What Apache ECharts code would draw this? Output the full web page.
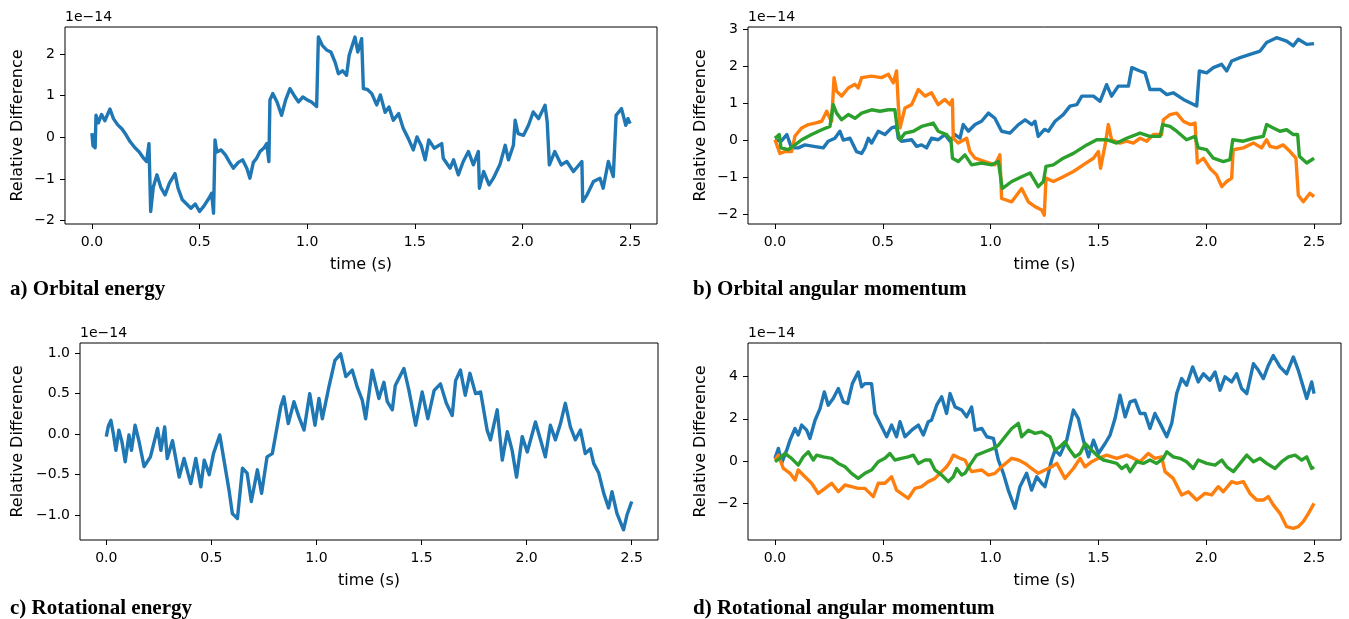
<!DOCTYPE html>
<html>
<head>
<meta charset="utf-8">
<script src="https://cdn.jsdelivr.net/npm/echarts@6/dist/echarts.min.js"></script>
<style>
html,body{margin:0;padding:0;background:#fff;}
#chart{width:1349px;height:619px;}
</style>
</head>
<body>
<div id="chart"></div>
<script>
// ---------- Data (relative difference, units of 1e-14) ----------
const xTicks = [0, 0.5, 1.0, 1.5, 2.0, 2.5];
const yTicksA = [-2, -1, 0, 1, 2];
const yTicksB = [-2, -1, 0, 1, 2, 3];
const yTicksC = [-1.0, -0.5, 0.0, 0.5, 1.0];
const yTicksD = [-2, 0, 2, 4];

// a) Orbital energy
const aT = [0,0.005,0.015,0.019,0.03,0.045,0.06,0.084,0.1,0.12,0.14,0.16,0.177,0.2,0.22,0.24,0.254,0.265,0.273,0.285,0.302,0.32,0.34,0.36,0.386,0.4,0.42,0.44,0.46,0.48,0.5,0.52,0.545,0.556,0.565,0.572,0.58,0.6,0.62,0.64,0.657,0.68,0.7,0.72,0.734,0.75,0.765,0.781,0.8,0.812,0.822,0.827,0.84,0.86,0.881,0.9,0.92,0.94,0.96,0.98,1.0,1.02,1.044,1.052,1.07,1.09,1.11,1.13,1.145,1.165,1.183,1.195,1.222,1.235,1.253,1.261,1.28,1.3,1.323,1.34,1.362,1.38,1.4,1.425,1.446,1.47,1.493,1.51,1.53,1.548,1.565,1.59,1.625,1.632,1.664,1.68,1.702,1.725,1.749,1.772,1.795,1.8,1.82,1.845,1.865,1.895,1.92,1.935,1.958,1.966,1.98,2.005,2.028,2.05,2.075,2.105,2.115,2.125,2.15,2.18,2.206,2.237,2.276,2.28,2.3,2.33,2.36,2.375,2.399,2.422,2.435,2.46,2.48,2.49,2.5];
const aV = [0.1,-0.2,-0.25,0.53,0.35,0.55,0.4,0.68,0.45,0.3,0.2,0.05,-0.1,-0.25,-0.35,-0.5,-0.58,-0.15,-1.78,-1.2,-0.9,-1.2,-1.38,-1.1,-0.87,-1.22,-1.5,-1.6,-1.7,-1.6,-1.78,-1.65,-1.45,-1.34,-1.82,-0.06,-0.35,-0.3,-0.42,-0.6,-0.74,-0.6,-0.54,-0.75,-0.98,-0.6,-0.5,-0.34,-0.25,-0.15,-0.58,0.9,1.05,0.85,0.53,0.9,1.17,1.0,0.85,0.97,0.9,0.85,0.74,2.41,2.21,2.1,2.05,1.8,1.53,1.6,1.49,1.97,2.41,2.05,2.37,1.17,1.15,1.05,0.78,1.02,0.6,0.73,0.41,0.57,0.22,-0.03,-0.3,0.01,-0.2,-0.54,-0.06,-0.26,-0.15,-0.5,-0.74,-0.54,-0.9,-0.58,-0.34,-0.66,-0.34,-1.22,-0.82,-1.14,-0.98,-0.66,-0.19,-0.54,-0.19,0.41,0.09,0.05,0.29,0.61,0.45,0.77,0.37,-0.66,-0.34,-0.66,-0.58,-0.82,-0.58,-1.54,-1.38,-1.06,-0.98,-1.22,-0.58,-0.94,0.53,0.69,0.29,0.45,0.33];

// b) Orbital angular momentum
const bT1 = [0,0.03,0.055,0.077,0.108,0.139,0.18,0.224,0.247,0.278,0.301,0.317,0.348,0.378,0.402,0.417,0.433,0.448,0.479,0.51,0.541,0.564,0.572,0.587,0.634,0.657,0.68,0.703,0.726,0.757,0.788,0.812,0.835,0.858,0.873,0.897,0.928,0.958,0.99,1.02,1.051,1.09,1.129,1.16,1.191,1.206,1.221,1.25,1.268,1.299,1.337,1.368,1.4,1.423,1.477,1.508,1.538,1.561,1.592,1.639,1.655,1.693,1.716,1.739,1.786,1.817,1.847,1.894,1.925,1.956,1.968,2.002,2.033,2.071,2.095,2.118,2.157,2.203,2.25,2.28,2.326,2.373,2.404,2.427,2.466,2.5];
const bV1 = [0.02,-0.01,0.16,-0.2,-0.2,-0.12,-0.16,-0.2,-0.02,0.06,0.25,0.01,0.06,-0.3,-0.35,-0.2,0.06,-0.07,0.25,0.16,0.34,0.38,0.06,-0.02,0.02,-0.16,-0.12,-0.2,0.06,0.02,0.16,-0.02,0.16,0.06,0.43,0.25,0.43,0.52,0.74,0.6,0.25,0.2,0.43,0.56,0.43,0.52,0.11,0.3,0.25,0.52,0.7,0.93,0.97,1.2,1.2,1.06,1.51,1.2,1.47,1.47,1.97,1.88,1.83,1.38,1.38,1.24,1.29,1.11,1.02,0.93,1.88,1.83,1.97,2.06,1.88,2.15,2.24,2.33,2.42,2.65,2.78,2.69,2.56,2.74,2.6,2.62];
const bT2 = [0,0.023,0.046,0.077,0.093,0.124,0.155,0.186,0.217,0.24,0.255,0.263,0.274,0.286,0.309,0.34,0.371,0.386,0.402,0.448,0.494,0.526,0.549,0.564,0.572,0.58,0.603,0.634,0.665,0.696,0.726,0.757,0.788,0.812,0.823,0.827,0.85,0.889,0.904,0.928,0.974,1.02,1.043,1.051,1.098,1.144,1.175,1.206,1.237,1.249,1.257,1.291,1.337,1.384,1.43,1.477,1.5,1.51,1.531,1.546,1.561,1.6,1.631,1.662,1.693,1.724,1.755,1.793,1.801,1.832,1.863,1.894,1.925,1.948,1.959,1.987,2.017,2.048,2.072,2.095,2.118,2.125,2.172,2.219,2.257,2.28,2.296,2.326,2.357,2.389,2.416,2.427,2.45,2.481,2.5];
const bV2 = [0.02,-0.35,-0.3,-0.3,0.12,0.34,0.43,0.47,0.52,0.79,0.6,0.52,1.7,1.33,1.2,1.42,1.52,1.42,1.7,1.74,1.7,1.79,1.56,1.88,0.97,0.34,0.88,0.97,1.38,1.2,1.29,0.97,1.11,0.97,1.1,0.06,-0.07,0.06,-0.3,-0.48,-0.57,-0.66,-0.39,-1.57,-1.66,-1.3,-1.66,-1.79,-1.88,-2.02,-1.02,-1.11,-0.98,-0.84,-0.66,-0.48,-0.3,-0.75,-0.12,0.43,0.02,-0.07,-0.02,-0.07,0.06,-0.02,0.16,0.16,0.56,0.7,0.74,0.52,0.43,0.47,-0.61,-0.48,-0.75,-0.93,-1.25,-1.11,-1.02,-0.25,-0.2,-0.07,-0.2,0.02,-0.16,-0.2,-0.12,-0.3,-0.48,-1.48,-1.66,-1.43,-1.52];
const bT3 = [0,0.02,0.028,0.062,0.093,0.124,0.17,0.217,0.255,0.27,0.286,0.309,0.34,0.371,0.402,0.448,0.487,0.526,0.556,0.569,0.58,0.603,0.642,0.68,0.711,0.734,0.757,0.796,0.816,0.823,0.85,0.881,0.912,0.958,1.005,1.036,1.054,1.098,1.144,1.183,1.221,1.245,1.257,1.291,1.337,1.384,1.446,1.492,1.538,1.585,1.631,1.693,1.739,1.786,1.798,1.832,1.863,1.909,1.948,1.963,2.002,2.033,2.079,2.11,2.123,2.172,2.219,2.265,2.28,2.311,2.342,2.373,2.404,2.424,2.432,2.466,2.5];
const bV3 = [0.06,0.16,-0.2,-0.25,-0.12,0.02,0.16,0.29,0.38,0.97,0.74,0.56,0.7,0.6,0.74,0.83,0.79,0.83,0.83,0.25,0.02,0.2,0.25,0.38,0.43,0.47,0.25,0.16,0.02,-0.48,-0.57,-0.39,-0.66,-0.61,-0.66,-0.57,-1.3,-1.11,-0.98,-0.88,-1.25,-1.11,-0.7,-0.66,-0.48,-0.35,-0.12,0.02,0.02,-0.07,0.06,0.2,0.11,0.11,0.43,0.38,0.25,0.02,0.11,-0.2,-0.25,-0.48,-0.57,-0.52,0.02,-0.02,0.06,0.11,0.43,0.34,0.25,0.29,0.16,0.16,-0.43,-0.61,-0.48];

// c) Rotational energy
const cT = [0,0.01,0.022,0.034,0.046,0.06,0.075,0.09,0.108,0.12,0.137,0.155,0.18,0.21,0.244,0.26,0.278,0.29,0.315,0.347,0.37,0.402,0.426,0.45,0.466,0.49,0.51,0.54,0.56,0.584,0.6,0.624,0.648,0.67,0.69,0.719,0.739,0.765,0.79,0.81,0.83,0.845,0.866,0.893,0.917,0.941,0.968,0.993,1.012,1.028,1.059,1.088,1.115,1.14,1.17,1.194,1.218,1.234,1.265,1.297,1.321,1.337,1.361,1.375,1.416,1.44,1.472,1.503,1.53,1.56,1.59,1.618,1.646,1.662,1.685,1.708,1.73,1.757,1.781,1.812,1.828,1.86,1.884,1.908,1.931,1.952,1.979,2.003,2.042,2.066,2.089,2.113,2.137,2.161,2.184,2.208,2.232,2.256,2.279,2.303,2.319,2.343,2.367,2.39,2.406,2.43,2.461,2.477,2.5];
const cV = [-0.03,0.1,0.17,0.0,-0.2,0.05,-0.1,-0.34,-0.01,-0.2,0.11,-0.08,-0.4,-0.28,0.07,-0.2,0.09,-0.3,-0.08,-0.53,-0.3,-0.61,-0.3,-0.65,-0.32,-0.5,-0.24,-0.01,-0.32,-0.69,-0.98,-1.04,-0.42,-0.48,-0.83,-0.44,-0.73,-0.28,-0.24,0.05,0.34,0.46,0.13,0.4,0.21,0.05,0.5,0.11,0.44,0.19,0.58,0.91,0.99,0.71,0.79,0.58,0.42,0.19,0.79,0.44,0.64,0.4,0.3,0.6,0.81,0.54,0.11,0.52,0.19,0.54,0.62,0.38,0.23,0.66,0.79,0.48,0.75,0.5,0.52,0.05,-0.07,0.3,-0.32,0.03,-0.2,-0.53,-0.03,-0.22,0.15,-0.07,-0.28,0.11,-0.07,0.13,0.38,0.09,-0.07,0.05,-0.24,-0.18,-0.36,-0.48,-0.73,-0.91,-0.71,-0.98,-1.18,-1.0,-0.83];

// d) Rotational angular momentum
const dT1 = [0,0.016,0.031,0.054,0.07,0.093,0.108,0.124,0.147,0.162,0.186,0.209,0.229,0.247,0.27,0.294,0.317,0.337,0.359,0.386,0.402,0.417,0.448,0.464,0.495,0.518,0.541,0.564,0.58,0.603,0.634,0.665,0.688,0.711,0.726,0.75,0.773,0.796,0.812,0.835,0.866,0.889,0.912,0.928,0.959,0.982,1.013,1.036,1.059,1.082,1.113,1.136,1.167,1.19,1.214,1.237,1.252,1.268,1.283,1.299,1.322,1.353,1.384,1.407,1.43,1.454,1.477,1.5,1.531,1.554,1.577,1.6,1.624,1.647,1.67,1.693,1.716,1.739,1.762,1.786,1.817,1.84,1.863,1.886,1.909,1.937,1.963,1.987,2.017,2.041,2.064,2.087,2.118,2.141,2.164,2.188,2.219,2.242,2.265,2.288,2.311,2.342,2.373,2.404,2.427,2.45,2.466,2.489,2.5];
const dV1 = [0.13,0.6,-0.1,0.5,0.99,1.54,1.23,1.7,1.46,1.07,1.93,2.48,3.27,2.64,2.96,3.43,2.8,2.72,3.66,4.21,3.51,3.66,3.66,2.25,1.62,1.15,1.7,1.15,1.86,1.15,1.46,1.7,1.23,1.86,1.93,2.64,3.04,2.25,3.19,2.56,2.41,2.09,2.56,1.46,1.54,1.15,1.07,0.05,-0.58,-1.37,-2.23,-1.21,-0.58,-1.37,-0.74,-1.05,-1.21,-0.58,0.05,0.52,0.28,0.99,2.41,2.01,0.99,0.2,0.99,0.36,0.83,1.23,2.01,3.11,2.09,2.8,2.88,2.25,2.25,1.54,2.25,1.78,1.15,1.78,3.19,3.9,3.58,4.45,3.74,4.13,3.82,4.21,3.35,3.98,3.74,4.13,3.43,3.19,4.6,4.29,3.9,4.52,4.99,4.45,4.13,4.92,4.29,3.5,2.96,3.74,3.19];
const dT2 = [0,0.016,0.039,0.07,0.093,0.108,0.139,0.17,0.201,0.232,0.263,0.294,0.325,0.355,0.386,0.417,0.456,0.479,0.51,0.541,0.564,0.595,0.618,0.649,0.68,0.711,0.742,0.773,0.796,0.812,0.827,0.858,0.881,0.897,0.912,0.958,0.99,1.02,1.051,1.098,1.129,1.16,1.19,1.221,1.252,1.283,1.307,1.345,1.384,1.415,1.438,1.469,1.5,1.538,1.585,1.631,1.662,1.693,1.731,1.762,1.793,1.809,1.847,1.886,1.917,1.956,1.994,2.025,2.056,2.079,2.118,2.141,2.172,2.203,2.234,2.265,2.288,2.311,2.342,2.373,2.404,2.427,2.45,2.474,2.5];
const dV2 = [0.05,0.28,-0.35,-0.58,-0.9,-0.42,-0.74,-1.05,-1.53,-1.29,-1.05,-1.45,-1.13,-1.21,-1.29,-1.29,-1.68,-1.05,-1.05,-0.74,-1.37,-1.6,-1.76,-1.29,-1.21,-0.97,-0.82,-0.5,-0.27,-0.03,0.28,0.13,0.05,-0.27,-0.5,-0.42,-0.66,-0.58,-0.27,0.13,0.05,-0.11,-0.35,-0.58,-0.42,-0.27,-0.11,-0.82,-0.35,0.13,-0.27,-0.03,0.13,0.28,0.13,0.28,0.13,-0.03,0.36,0.13,0.2,-0.5,-0.82,-1.6,-1.45,-1.84,-1.53,-1.6,-1.21,-1.45,-0.97,-1.05,-0.97,-1.53,-1.84,-1.84,-1.68,-2.07,-2.47,-3.1,-3.18,-3.1,-2.86,-2.47,-2.0];
const dT3 = [0,0.023,0.046,0.077,0.108,0.131,0.155,0.178,0.193,0.224,0.263,0.294,0.325,0.355,0.386,0.417,0.448,0.479,0.51,0.533,0.556,0.587,0.618,0.642,0.665,0.696,0.719,0.742,0.773,0.804,0.827,0.843,0.866,0.881,0.904,0.935,0.974,1.013,1.036,1.067,1.098,1.129,1.144,1.175,1.206,1.237,1.26,1.276,1.299,1.322,1.345,1.368,1.391,1.415,1.438,1.461,1.492,1.523,1.554,1.585,1.608,1.631,1.647,1.677,1.708,1.739,1.77,1.801,1.817,1.847,1.878,1.909,1.94,1.963,2.002,2.041,2.072,2.095,2.126,2.157,2.188,2.219,2.25,2.28,2.319,2.35,2.381,2.412,2.443,2.466,2.489,2.5];
const dV3 = [-0.03,0.13,0.36,0.13,-0.19,0.2,0.44,0.05,0.28,0.2,0.13,-0.11,-0.27,-0.58,-0.82,-0.58,-0.42,-0.03,0.13,0.36,0.05,0.13,0.2,0.28,-0.11,0.05,0.05,-0.42,-0.66,-0.97,-0.74,-0.35,-0.66,-0.58,-0.19,0.28,0.44,0.6,0.75,1.15,1.54,1.78,1.15,1.46,1.31,1.38,1.23,1.15,0.52,0.68,0.91,0.52,0.2,0.36,0.83,0.6,0.28,0.05,-0.03,-0.11,-0.35,-0.19,-0.5,-0.03,-0.11,0.05,-0.11,0.13,0.44,0.2,0.13,-0.03,-0.35,0.05,-0.11,-0.19,0.05,-0.27,-0.5,-0.11,0.28,-0.03,0.13,-0.11,-0.35,-0.03,0.2,0.28,0.05,0.2,-0.35,-0.27];

// ---------- Chart ----------
const C1 = '#1f77b4', C2 = '#ff7f0e', C3 = '#2ca02c';
const FONT = 'DejaVu Sans';
const pairs = (t, v) => t.map((x, i) => [x, v[i]]);
const minus = s => String(s).replace('-', '\u2212');

const panels = [
  {left: 65,  top: 27,  right: 1349-657, ymin: -2.08, ymax: 2.65, ticks: yTicksA, dec: 0, ng: 39},
  {left: 748, top: 27,  right: 8,        ymin: -2.26, ymax: 3.07, ticks: yTicksB, dec: 0, ng: 39},
  {left: 80,  top: 343, right: 1349-658, ymin: -1.305, ymax: 1.124, ticks: yTicksC, dec: 1, ng: 54},
  {left: 748, top: 343, right: 8,        ymin: -3.73, ymax: 5.58, ticks: yTicksD, dec: 0, ng: 39}
];

const grid = panels.map(p => ({left: p.left, top: p.top, right: p.right, height: 197, show: true, borderColor: '#000', borderWidth: 1, backgroundColor: 'transparent'}));

const xAxis = panels.map((p, i) => ({
  type: 'value', gridIndex: i, min: -0.125, max: 2.625,
  name: 'time (s)', nameLocation: 'middle', nameGap: 33,
  nameTextStyle: {fontFamily: FONT, fontSize: 16, color: '#000'},
  axisLine: {show: false, onZero: false},
  splitLine: {show: false},
  axisTick: {show: true, inside: false, length: 5, lineStyle: {color: '#000', width: 1}, customValues: xTicks},
  axisLabel: {show: true, customValues: xTicks, margin: 11, fontFamily: FONT, fontSize: 14, color: '#000',
    formatter: v => minus(Number(v).toFixed(1))}
}));

const yAxis = panels.map((p, i) => ({
  type: 'value', gridIndex: i, min: p.ymin, max: p.ymax,
  name: 'Relative Difference', nameLocation: 'middle', nameRotate: 90, nameGap: p.ng,
  nameTextStyle: {fontFamily: FONT, fontSize: 16, color: '#000'},
  axisLine: {show: false, onZero: false},
  splitLine: {show: false},
  axisTick: {show: true, inside: false, length: 5, lineStyle: {color: '#000', width: 1}, customValues: p.ticks},
  axisLabel: {show: true, customValues: p.ticks, margin: 10, fontFamily: FONT, fontSize: 14, color: '#000',
    formatter: v => minus(Number(v).toFixed(p.dec))}
}));

const line = (i, t, v, c) => ({
  type: 'line', xAxisIndex: i, yAxisIndex: i, data: pairs(t, v), showSymbol: false, symbol: 'none',
  lineStyle: {color: c, width: 3.4, join: 'round'}, itemStyle: {color: c}, animation: false, silent: true
});

const series = [
  line(0, aT, aV, C1),
  line(1, bT1, bV1, C1), line(1, bT2, bV2, C2), line(1, bT3, bV3, C3),
  line(2, cT, cV, C1),
  line(3, dT1, dV1, C1), line(3, dT2, dV2, C2), line(3, dT3, dV3, C3)
];

const offTxt = (x, y) => ({type: 'text', left: x, top: y, style: {text: '1e\u221214', font: '14px "DejaVu Sans"', fill: '#000'}});
const cap = (x, y, s) => ({type: 'text', left: x, top: y, style: {text: s, font: 'bold 21px "Liberation Serif"', fill: '#000'}});

const chart = echarts.init(document.getElementById('chart'), null, {renderer: 'canvas'});
chart.setOption({
  animation: false,
  backgroundColor: '#fff',
  grid, xAxis, yAxis, series,
  graphic: [
    offTxt(65, 10), offTxt(748, 10), offTxt(80, 326), offTxt(748, 326),
    cap(10, 279, 'a) Orbital energy'),
    cap(693, 279, 'b) Orbital angular momentum'),
    cap(10, 598, 'c) Rotational energy'),
    cap(693, 598, 'd) Rotational angular momentum')
  ]
});
</script>
</body>
</html>
